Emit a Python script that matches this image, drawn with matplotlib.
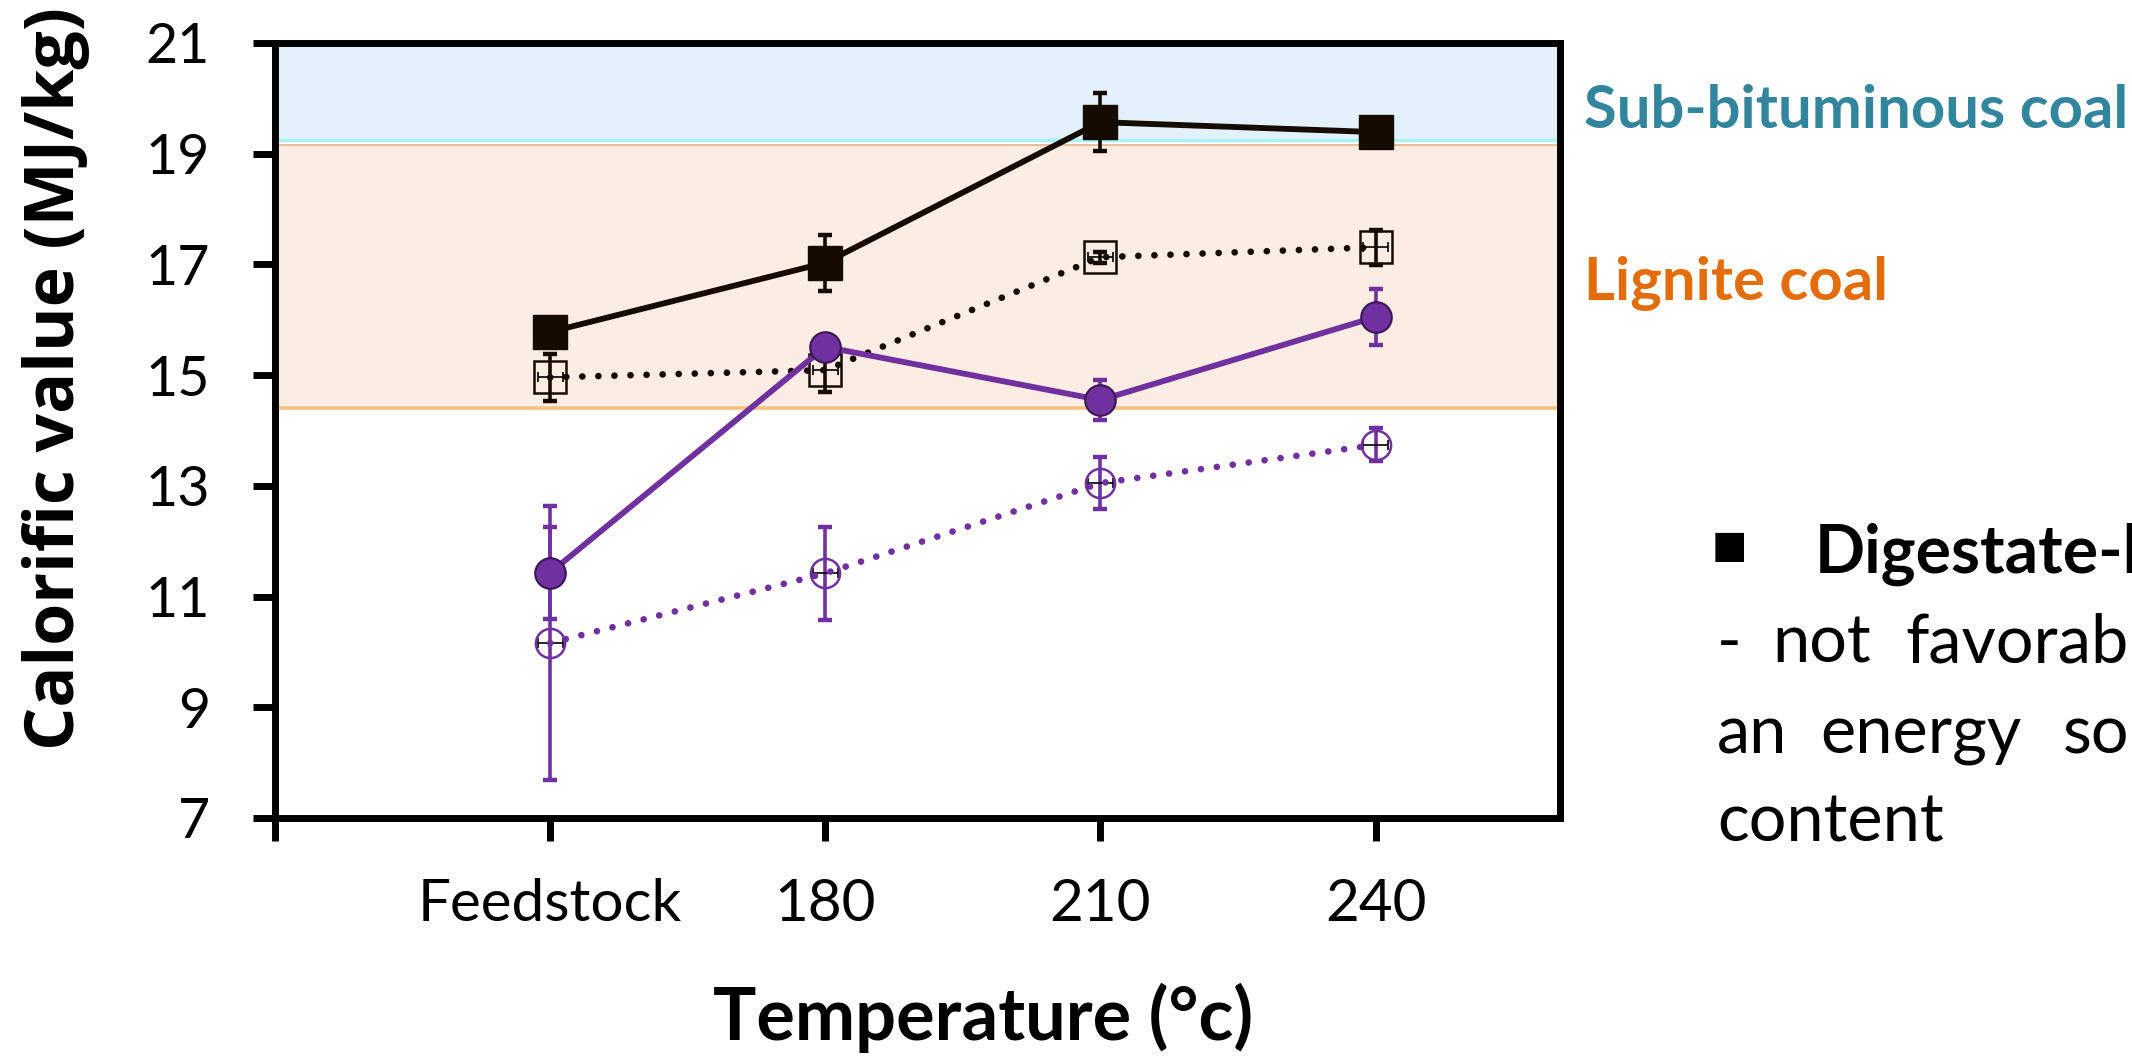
import matplotlib
matplotlib.use('Agg')
import matplotlib.pyplot as plt

plt.rcParams['font.family'] = ['Lato', 'DejaVu Sans']

# ---------------- data ----------------
categories = ['Feedstock', '180', '210', '240']
x_pos = [1, 2, 3, 4]

black_solid = [15.78, 17.03, 19.57, 19.39]
black_solid_err = [0.15, 0.51, 0.53, 0.25]

black_dotted = [14.96, 15.09, 17.13, 17.31]
black_dotted_err = [0.42, 0.40, 0.10, 0.32]

purple_solid = [11.43, 15.51, 14.55, 16.05]
purple_solid_err = [0.83, 0.20, 0.36, 0.50]

purple_dotted = [10.16, 11.42, 13.05, 13.74]
purple_dotted_err = [2.47, 0.84, 0.47, 0.30]

open_xerr = [0.045, 0.045, 0.045, 0.045]

sub_bituminous_band = (19.25, 21.0)
lignite_band = (14.41, 19.16)

y_ticks = [7, 9, 11, 13, 15, 17, 19, 21]
x_ticks = [0, 1, 2, 3, 4]
x_tick_labels = [''] + categories

# ---------------- style ----------------
BLK = '#150b02'
PUR = '#7030A0'
DOT = (0, (0.01, 2.4))

fig = plt.figure(figsize=(21.32, 10.56), dpi=100)
ax = fig.add_axes([0.1290, 0.2254, 0.6027, 0.7339])

# bands
ax.axhspan(*lignite_band, facecolor='#FBEDE3', lw=0, zorder=0.5)
ax.axhspan(*sub_bituminous_band, facecolor='#E2F1FA', lw=0, zorder=0.5)
ax.axhline(sub_bituminous_band[0], color='#A6F3F8', lw=2.4, zorder=0.6)
ax.axhline(lignite_band[1], color='#EDB98F', lw=1.3, zorder=0.6)
ax.axhline(lignite_band[0], color='#F3C27E', lw=2.6, zorder=0.6)

# error bars
def yerrbars(y, err, color, z):
    ax.errorbar(x_pos, y, yerr=err, fmt='none', ecolor=color, elinewidth=2.6,
                capsize=5, capthick=3.2, zorder=z)

def xerrbars(y, z):
    ax.errorbar(x_pos, y, xerr=open_xerr, fmt='none', ecolor='black',
                elinewidth=1.2, capsize=3.5, capthick=1.2, zorder=z)

yerrbars(black_dotted, black_dotted_err, BLK, 2.0)
xerrbars(black_dotted, 2.05)
yerrbars(purple_dotted, purple_dotted_err, PUR, 2.1)
xerrbars(purple_dotted, 2.15)
yerrbars(black_solid, black_solid_err, BLK, 2.9)
yerrbars(purple_solid, purple_solid_err, PUR, 3.4)

# series
ax.plot(x_pos, black_dotted, color=BLK, lw=4.8, ls=DOT, dash_capstyle='round',
        marker='s', ms=23, mfc='none', mec=BLK, mew=1.8, zorder=2.2)
ax.plot(x_pos, purple_dotted, color=PUR, lw=4.8, ls=DOT, dash_capstyle='round',
        marker='o', ms=21, mfc='none', mec=PUR, mew=1.8, zorder=2.3)
ax.plot(x_pos, black_solid, color=BLK, lw=4.2, marker='s', ms=24,
        mfc=BLK, mec=BLK, mew=1, zorder=3)
ax.plot(x_pos, purple_solid, color=PUR, lw=4.2, marker='o', ms=22,
        mfc=PUR, mec='#3b1655', mew=1.5, zorder=3.5)

# axes
ax.set_xlim(0, 4.67)
ax.set_ylim(7, 21)
ax.set_yticks(y_ticks)
ax.set_xticks(x_ticks)
ax.set_xticklabels(x_tick_labels)
for s in ax.spines.values():
    s.set_linewidth(5)
    s.set_color('black')
ax.tick_params(axis='y', direction='out', length=16, width=5, pad=31, labelsize=40)
ax.tick_params(axis='x', direction='out', length=16.5, width=5, pad=27, labelsize=42)

# axis labels
fig.text(0.3344, 0.01515, 'Temperature (°c)', fontsize=52, fontweight='bold',
         ha='left', va='baseline')
fig.text(0.0263, 0.642, 'Calorific value (MJ/kg)', rotation=90, fontsize=49,
         fontweight='bold', family=['Open Sans', 'DejaVu Sans'],
         ha='center', va='center')

# band labels
fig.text(0.743, 0.8788, 'Sub-bituminous coal', color='#31859C', fontsize=43,
         fontweight='bold', va='baseline')
fig.text(0.743, 0.7159, 'Lignite coal', color='#E46C0A', fontsize=43,
         fontweight='bold', va='baseline')

# side note text
fig.text(0.803, 0.482, '■', fontsize=27, family=['DejaVu Sans'], va='center')
fig.text(0.8513, 0.4574, 'Digestate-based', fontsize=47.5, fontweight='bold', va='baseline')
fig.text(0.8053, 0.3722, '-', fontsize=48, va='baseline')
fig.text(0.8311, 0.3722, 'not', fontsize=48, va='baseline')
fig.text(0.8935, 0.3722, 'favorable', fontsize=48, va='baseline')
fig.text(0.8053, 0.2869, 'an', fontsize=48, va='baseline')
fig.text(0.8537, 0.2869, 'energy', fontsize=48, va='baseline')
fig.text(0.9676, 0.2869, 'source', fontsize=48, va='baseline')
fig.text(0.8053, 0.2027, 'content', fontsize=48, va='baseline')

fig.savefig('out.png', dpi=100)
